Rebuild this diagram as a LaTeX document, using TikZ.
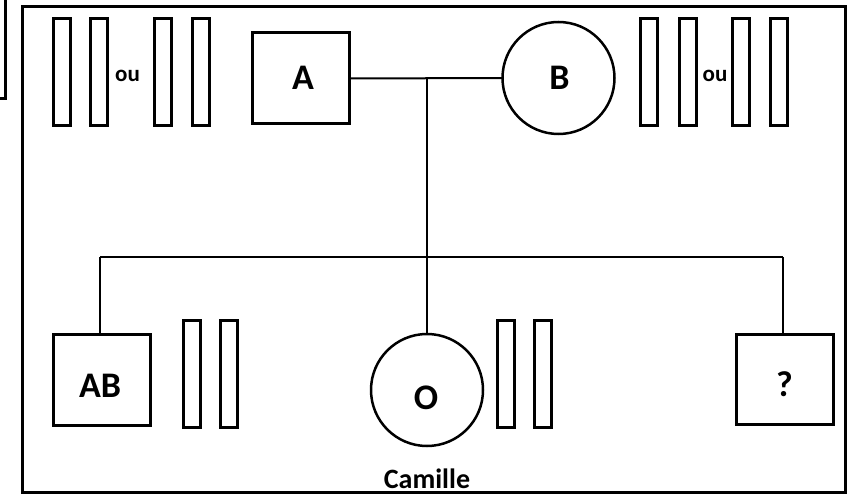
\documentclass[tikz,border=0pt]{standalone}
\usepackage{fontspec}
\setmainfont{Carlito}
\begin{document}
\begin{tikzpicture}[x=1pt,y=-1pt,
  box/.style={draw, line width=3pt, minimum width=97pt, minimum height=91pt, inner sep=0pt, outer sep=0pt},
  circ/.style={draw, circle, line width=2.5pt, minimum size=112pt, inner sep=0pt, outer sep=0pt},
  bar/.style={draw, line width=3pt, minimum width=17pt, minimum height=107pt, inner sep=0pt, outer sep=0pt},
  conn/.style={line width=2pt},
  big/.style={font=\fontsize{36}{40}\selectfont\bfseries, inner sep=0pt},
  small/.style={font=\fontsize{23}{26}\selectfont\bfseries, inner sep=0pt},
  camstyle/.style={font=\fontsize{28}{30}\selectfont\bfseries, inner sep=0pt, anchor=base}]
\useasboundingbox (0,0) rectangle (849,497);
% frames
\draw[line width=3pt] (-20,-20) rectangle (5.5,98.5);
\draw[line width=3pt] (22.5,6.5) rectangle (845.5,492.5);
% parents
\node[box] (A) at (301,78.5) {};
\node[big] (Alab) at (303,78) {A};
\node[circ] (B) at (558.5,78) {};
\node[big] (Blab) at (559.5,78) {B};
% bars top left
\node[bar] (l1) at (62,72) {};
\node[bar] (l2) at (99,72) {};
\node[small] (ouL) at (127.5,76) {ou};
\node[bar] (l3) at (163,72) {};
\node[bar] (l4) at (201,72) {};
% bars top right
\node[bar] (r1) at (648.5,72) {};
\node[bar] (r2) at (687.5,72) {};
\node[small] (ouR) at (715,76) {ou};
\node[bar] (r3) at (741,72) {};
\node[bar] (r4) at (779,72) {};
% children
\node[box] (AB) at (102,379.5) {};
\node[big] (ABlab) at (100,386) {AB};
\node[bar] (ab1) at (191.5,374) {};
\node[bar] (ab2) at (229,374) {};
\node[circ] (O) at (427,390) {};
\node[big] (Olab) at (426,397.5) {O};
\node[bar] (o1) at (505.5,374) {};
\node[bar] (o2) at (543,374) {};
\node[camstyle] (cam) at (427,488) {Camille};
\node[box, minimum height=90pt] (Q) at (785,379.5) {};
\node[big] (Qlab) at (784.5,384.5) {?};
% connectors
\coordinate (m) at (427,78);
\coordinate (s) at (427,257);
\coordinate (sl) at (100,257);
\coordinate (sr) at (783,257);
\draw[conn] (A.east) -- (B.west);
\draw[conn] (m) -- (s);
\draw[conn] (sl) -- (sr);
\draw[conn] (sl) -- (sl |- AB.north);
\draw[conn] (s) -- (O.north);
\draw[conn] (sr) -- (sr |- Q.north);
\end{tikzpicture}
\end{document}
